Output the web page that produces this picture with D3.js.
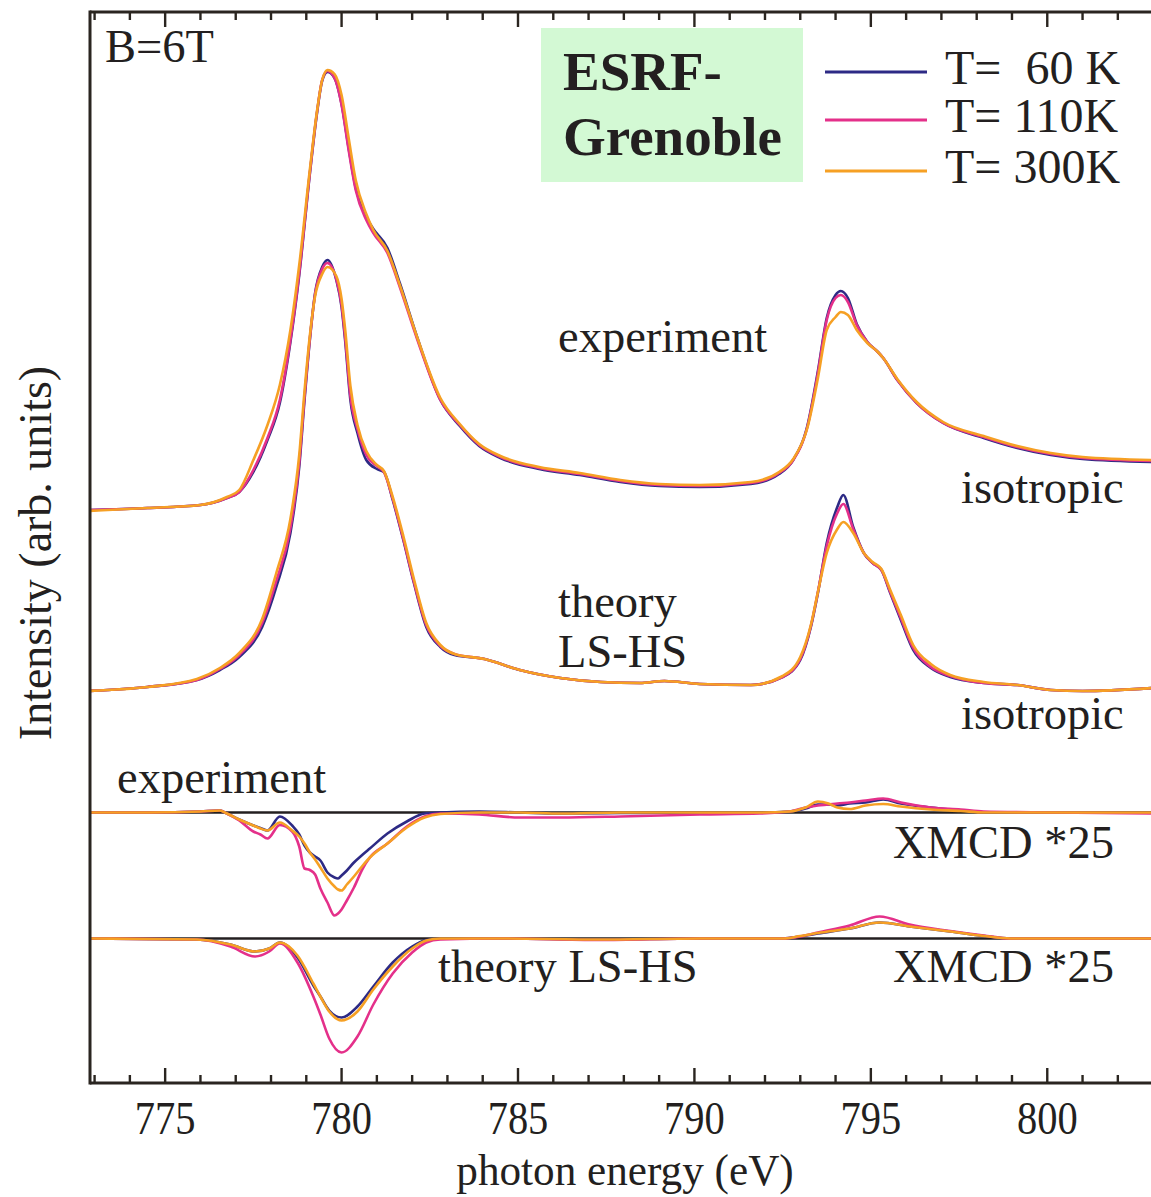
<!DOCTYPE html>
<html>
<head>
<meta charset="utf-8">
<script src="https://cdn.jsdelivr.net/npm/d3@7"></script>
<style>
  html, body { margin: 0; padding: 0; background: #fff; }
  svg { display: block; }
  text { font-family: "Liberation Serif", "Times New Roman", serif; fill: #231f20; white-space: pre; }
</style>
</head>
<body>
<script>
// ---------- data ----------
// photon energy grids (eV)
const energyExpXAS = [772.8, 774.5, 776.0, 776.75, 777.1, 777.5, 777.9, 778.25, 778.55, 778.8, 779.1, 779.3, 779.45, 779.6, 779.8, 780.0, 780.2, 780.4, 780.7, 780.9, 781.3, 781.65, 782.15, 782.8, 783.35, 783.9, 784.5, 785.6, 786.75, 787.9, 789.0, 790.15, 791.6, 792.4, 792.8, 793.2, 793.5, 793.75, 794.0, 794.15, 794.35, 794.6, 794.9, 795.2, 795.35, 795.75, 796.3, 797.05, 798.2, 799.15, 800.1, 801.0, 803.0];
const energyThXAS = [772.8, 774.5, 775.9, 776.55, 777.1, 777.75, 778.15, 778.55, 778.8, 778.95, 779.1, 779.25, 779.45, 779.6, 779.85, 780.0, 780.1, 780.25, 780.45, 780.7, 781.0, 781.2, 781.45, 781.75, 782.05, 782.4, 782.8, 783.2, 784.05, 785.05, 786.2, 787.35, 788.45, 789.15, 790.15, 791.6, 792.5, 793.0, 793.3, 793.5, 793.75, 794.05, 794.22, 794.5, 794.8, 795.05, 795.3, 795.55, 795.85, 796.2, 796.7, 797.25, 798.2, 799.15, 800.1, 801.0, 803.0];
const energyExpXMCD = [772.8, 774.55, 776.0, 776.55, 776.75, 777.1, 777.5, 777.7, 777.9, 778.25, 778.6, 778.8, 778.95, 779.1, 779.25, 779.4, 779.6, 779.8, 779.9, 780.0, 780.15, 780.35, 780.6, 780.8, 781.3, 781.85, 782.35, 782.8, 783.9, 785.05, 786.2, 787.9, 790.15, 791.85, 792.7, 793.15, 793.5, 793.8, 794.05, 794.4, 794.85, 795.35, 795.85, 796.7, 797.55, 798.2, 800.1, 803.0];
const energyThXMCD = [772.8, 775.9, 776.85, 777.55, 777.95, 778.25, 778.75, 779.2, 779.4, 779.65, 780.0, 780.45, 780.9, 781.45, 782.0, 782.4, 782.8, 784.5, 787.3, 790.15, 792.5, 793.0, 793.5, 794.4, 795.25, 796.1, 797.25, 798.2, 798.95, 803.0];

// experiment, isotropic XAS
const expXAS_60K  = [0.00, 0.02, 0.05, 0.12, 0.18, 0.38, 0.70, 1.07, 1.68, 2.35, 3.36, 3.96, 4.29, 4.38, 4.32, 4.06, 3.62, 3.22, 2.93, 2.81, 2.62, 2.27, 1.72, 1.10, 0.84, 0.64, 0.52, 0.41, 0.35, 0.28, 0.24, 0.23, 0.26, 0.36, 0.50, 0.84, 1.39, 1.92, 2.15, 2.19, 2.12, 1.86, 1.68, 1.58, 1.52, 1.30, 1.07, 0.87, 0.72, 0.62, 0.55, 0.51, 0.48];
const expXAS_110K = [0.00, 0.02, 0.05, 0.12, 0.18, 0.40, 0.72, 1.10, 1.70, 2.37, 3.37, 3.97, 4.30, 4.39, 4.32, 4.05, 3.60, 3.20, 2.90, 2.77, 2.57, 2.23, 1.70, 1.10, 0.85, 0.65, 0.53, 0.42, 0.36, 0.29, 0.25, 0.24, 0.27, 0.37, 0.50, 0.83, 1.37, 1.90, 2.12, 2.15, 2.08, 1.85, 1.68, 1.58, 1.52, 1.30, 1.07, 0.87, 0.73, 0.63, 0.56, 0.52, 0.49];
const expXAS_300K = [-0.01, 0.02, 0.05, 0.13, 0.20, 0.50, 0.85, 1.25, 1.80, 2.45, 3.40, 3.98, 4.30, 4.40, 4.36, 4.15, 3.72, 3.30, 2.96, 2.80, 2.59, 2.25, 1.72, 1.12, 0.86, 0.66, 0.54, 0.43, 0.37, 0.30, 0.26, 0.25, 0.28, 0.38, 0.51, 0.82, 1.32, 1.80, 1.93, 1.98, 1.95, 1.80, 1.67, 1.58, 1.52, 1.31, 1.08, 0.88, 0.74, 0.64, 0.57, 0.53, 0.50];

// theory LS-HS, isotropic XAS
const thXAS_60K  = [0.00, 0.04, 0.11, 0.21, 0.34, 0.64, 1.04, 1.58, 2.24, 2.91, 3.51, 3.98, 4.24, 4.31, 4.11, 3.84, 3.51, 2.91, 2.58, 2.31, 2.22, 2.19, 1.91, 1.51, 1.08, 0.64, 0.44, 0.36, 0.32, 0.21, 0.13, 0.09, 0.08, 0.10, 0.07, 0.06, 0.14, 0.31, 0.64, 0.98, 1.48, 1.84, 1.96, 1.64, 1.38, 1.28, 1.21, 0.98, 0.71, 0.41, 0.23, 0.14, 0.08, 0.06, 0.01, 0.00, 0.03];
const thXAS_110K = [0.00, 0.04, 0.11, 0.22, 0.36, 0.68, 1.10, 1.63, 2.28, 2.94, 3.52, 3.97, 4.22, 4.28, 4.12, 3.86, 3.54, 2.95, 2.62, 2.36, 2.25, 2.19, 1.92, 1.52, 1.09, 0.66, 0.45, 0.37, 0.32, 0.21, 0.13, 0.09, 0.08, 0.10, 0.07, 0.06, 0.14, 0.32, 0.65, 0.99, 1.45, 1.78, 1.87, 1.62, 1.38, 1.28, 1.21, 0.99, 0.73, 0.43, 0.24, 0.15, 0.08, 0.06, 0.01, 0.00, 0.03];
const thXAS_300K = [0.00, 0.04, 0.12, 0.23, 0.38, 0.72, 1.18, 1.72, 2.36, 3.00, 3.55, 3.95, 4.17, 4.24, 4.15, 3.92, 3.62, 3.05, 2.66, 2.40, 2.26, 2.20, 1.94, 1.55, 1.12, 0.68, 0.46, 0.37, 0.32, 0.21, 0.13, 0.09, 0.08, 0.10, 0.07, 0.06, 0.15, 0.34, 0.66, 0.99, 1.38, 1.62, 1.69, 1.58, 1.38, 1.29, 1.22, 1.01, 0.76, 0.46, 0.27, 0.16, 0.09, 0.06, 0.01, 0.00, 0.03];

// experiment, XMCD x25
const expXMCD_60K  = [0.00, 0.00, 0.01, 0.02, -0.01, -0.07, -0.13, -0.155, -0.18, -0.04, -0.13, -0.22, -0.33, -0.40, -0.44, -0.48, -0.60, -0.65, -0.66, -0.63, -0.58, -0.50, -0.42, -0.36, -0.21, -0.09, -0.01, 0.00, 0.01, 0.00, -0.01, -0.005, 0.00, 0.00, 0.01, 0.04, 0.08, 0.08, 0.07, 0.09, 0.10, 0.13, 0.09, 0.05, 0.02, 0.00, 0.00, 0.00];
const expXMCD_110K = [0.00, 0.00, 0.01, 0.02, -0.01, -0.08, -0.19, -0.22, -0.26, -0.125, -0.19, -0.34, -0.56, -0.575, -0.62, -0.76, -0.90, -1.03, -1.01, -0.97, -0.88, -0.75, -0.56, -0.45, -0.31, -0.14, -0.04, -0.01, -0.02, -0.05, -0.05, -0.04, -0.02, -0.01, 0.01, 0.05, 0.07, 0.08, 0.09, 0.10, 0.12, 0.14, 0.10, 0.05, 0.03, 0.01, 0.00, -0.01];
const expXMCD_300K = [0.00, 0.00, 0.01, 0.02, -0.01, -0.07, -0.13, -0.16, -0.18, -0.10, -0.18, -0.24, -0.31, -0.40, -0.47, -0.55, -0.66, -0.74, -0.77, -0.78, -0.72, -0.64, -0.53, -0.45, -0.31, -0.15, -0.05, -0.015, 0.00, 0.00, -0.01, 0.00, 0.00, 0.00, 0.01, 0.05, 0.11, 0.09, 0.05, 0.035, 0.07, 0.085, 0.06, 0.03, 0.015, 0.00, 0.00, 0.00];

// theory LS-HS, XMCD x25
const thXMCD_60K  = [0, -0.01, -0.06, -0.13, -0.10, -0.04, -0.19, -0.47, -0.58, -0.72, -0.79, -0.68, -0.48, -0.24, -0.08, -0.015, 0.00, 0.00, -0.01, 0.00, 0.00, 0.02, 0.05, 0.10, 0.16, 0.12, 0.07, 0.025, 0.00, 0.00];
const thXMCD_110K = [0, -0.01, -0.08, -0.18, -0.13, -0.05, -0.24, -0.58, -0.76, -1.00, -1.14, -0.98, -0.66, -0.35, -0.14, -0.04, -0.01, 0.00, -0.015, 0.00, 0.00, 0.02, 0.06, 0.13, 0.22, 0.14, 0.075, 0.03, 0.00, 0.00];
const thXMCD_300K = [0, -0.01, -0.06, -0.13, -0.10, -0.04, -0.17, -0.45, -0.58, -0.73, -0.82, -0.73, -0.51, -0.28, -0.10, -0.02, 0.00, 0.00, -0.01, 0.00, 0.00, 0.025, 0.055, 0.10, 0.16, 0.12, 0.07, 0.025, 0.00, 0.00];

// vertical offsets of the stacked spectra (arb. units)
const offsetExpXAS = 5.73;
const offsetThXAS = 3.92;
const offsetExpXMCD = 2.705;
const offsetThXMCD = 1.445;

const temperatures = ["T=  60 K", "T= 110K", "T= 300K"];
const seriesColors = ["#2d2a85", "#e4308a", "#f6a024"];
const xTicksMajor = [775, 780, 785, 790, 795, 800];

// ---------- layout ----------
const W = 1151, H = 1197;
const plotLeft = 90, plotRight = 1151, plotTop = 12, plotBottom = 1083;

const svg = d3.select("body").append("svg").attr("width", W).attr("height", H);

const x = d3.scaleLinear().domain([772.87, 802.94]).range([plotLeft, plotRight]);
const y = d3.scaleLinear().domain([0, 10.71]).range([plotBottom, plotTop]);

svg.append("defs").append("clipPath").attr("id", "plot-clip")
  .append("rect").attr("x", plotLeft).attr("y", plotTop)
  .attr("width", plotRight - plotLeft).attr("height", plotBottom - plotTop);

const groups = [
  { energy: energyExpXAS, offset: offsetExpXAS, sets: [expXAS_60K, expXAS_110K, expXAS_300K] },
  { energy: energyThXAS, offset: offsetThXAS, sets: [thXAS_60K, thXAS_110K, thXAS_300K] },
  { energy: energyExpXMCD, offset: offsetExpXMCD, sets: [expXMCD_60K, expXMCD_110K, expXMCD_300K] },
  { energy: energyThXMCD, offset: offsetThXMCD, sets: [thXMCD_60K, thXMCD_110K, thXMCD_300K] }
];

const plot = svg.append("g").attr("clip-path", "url(#plot-clip)");

// zero lines under the XMCD spectra
[offsetExpXMCD, offsetThXMCD].forEach(o => {
  plot.append("line")
    .attr("x1", plotLeft).attr("x2", plotRight)
    .attr("y1", y(o)).attr("y2", y(o))
    .attr("stroke", "#231f20").attr("stroke-width", 2.6);
});

const line = d3.line()
  .x(d => x(d[0]))
  .y(d => y(d[1]))
  .curve(d3.curveMonotoneX);

groups.forEach(g => {
  g.sets.forEach((vals, i) => {
    const pts = g.energy.map((e, k) => [e, vals[k] + g.offset]);
    plot.append("path")
      .attr("d", line(pts))
      .attr("fill", "none")
      .attr("stroke", seriesColors[i])
      .attr("stroke-width", 2.6)
      .attr("stroke-linejoin", "round");
  });
});

// ---------- frame and ticks ----------
const frameColor = "#2a2520";
svg.append("line").attr("x1", plotLeft).attr("x2", plotLeft).attr("y1", plotTop - 1.5).attr("y2", plotBottom + 1.5)
  .attr("stroke", frameColor).attr("stroke-width", 3);
svg.append("line").attr("x1", plotLeft).attr("x2", plotRight).attr("y1", plotTop).attr("y2", plotTop)
  .attr("stroke", frameColor).attr("stroke-width", 3);
svg.append("line").attr("x1", plotLeft).attr("x2", plotRight).attr("y1", plotBottom).attr("y2", plotBottom)
  .attr("stroke", frameColor).attr("stroke-width", 3);

const allTicks = d3.range(773, 803);
allTicks.forEach(t => {
  const len = t % 5 === 0 ? 15 : 8;
  svg.append("line").attr("x1", x(t)).attr("x2", x(t)).attr("y1", plotBottom).attr("y2", plotBottom - len)
    .attr("stroke", frameColor).attr("stroke-width", 2.4);
  svg.append("line").attr("x1", x(t)).attr("x2", x(t)).attr("y1", plotTop).attr("y2", plotTop + len)
    .attr("stroke", frameColor).attr("stroke-width", 2.4);
});

xTicksMajor.forEach(t => {
  svg.append("text")
    .attr("transform", `translate(${x(t)},1134) scale(0.88,1)`)
    .attr("text-anchor", "middle")
    .attr("font-size", 46)
    .text(t);
});

svg.append("text")
  .attr("transform", "translate(625,1185) scale(0.96,1)")
  .attr("text-anchor", "middle")
  .attr("font-size", 45)
  .text("photon energy (eV)");

svg.append("text")
  .attr("transform", "translate(51,553) rotate(-90)")
  .attr("text-anchor", "middle")
  .attr("font-size", 46)
  .text("Intensity (arb. units)");

// ---------- annotations ----------
const notes = [
  { t: "B=6T", x: 105, y: 62 },
  { t: "experiment", x: 558, y: 352 },
  { t: "isotropic", x: 961, y: 503 },
  { t: "theory", x: 558, y: 617 },
  { t: "LS-HS", x: 558, y: 667 },
  { t: "isotropic", x: 961, y: 729 },
  { t: "experiment", x: 117, y: 793 },
  { t: "XMCD *25", x: 893, y: 858 },
  { t: "theory LS-HS", x: 438, y: 982 },
  { t: "XMCD *25", x: 893, y: 982 }
];
notes.forEach(n => {
  svg.append("text").attr("x", n.x).attr("y", n.y).attr("font-size", 46.5).text(n.t);
});

// ---------- legend ----------
svg.append("rect").attr("x", 541).attr("y", 28).attr("width", 262).attr("height", 154).attr("fill", "#d3f9d4");
svg.append("text").attr("x", 563).attr("y", 90).attr("font-size", 55).attr("font-weight", "bold").text("ESRF-");
svg.append("text").attr("x", 563).attr("y", 155).attr("font-size", 55).attr("font-weight", "bold").text("Grenoble");

const legendY = [72, 120, 171];
temperatures.forEach((lab, i) => {
  svg.append("line").attr("x1", 825).attr("x2", 927).attr("y1", legendY[i]).attr("y2", legendY[i])
    .attr("stroke", seriesColors[i]).attr("stroke-width", 2.8);
  svg.append("text").attr("x", 945).attr("y", legendY[i] + 12).attr("font-size", 48).text(lab);
});
</script>
</body>
</html>
